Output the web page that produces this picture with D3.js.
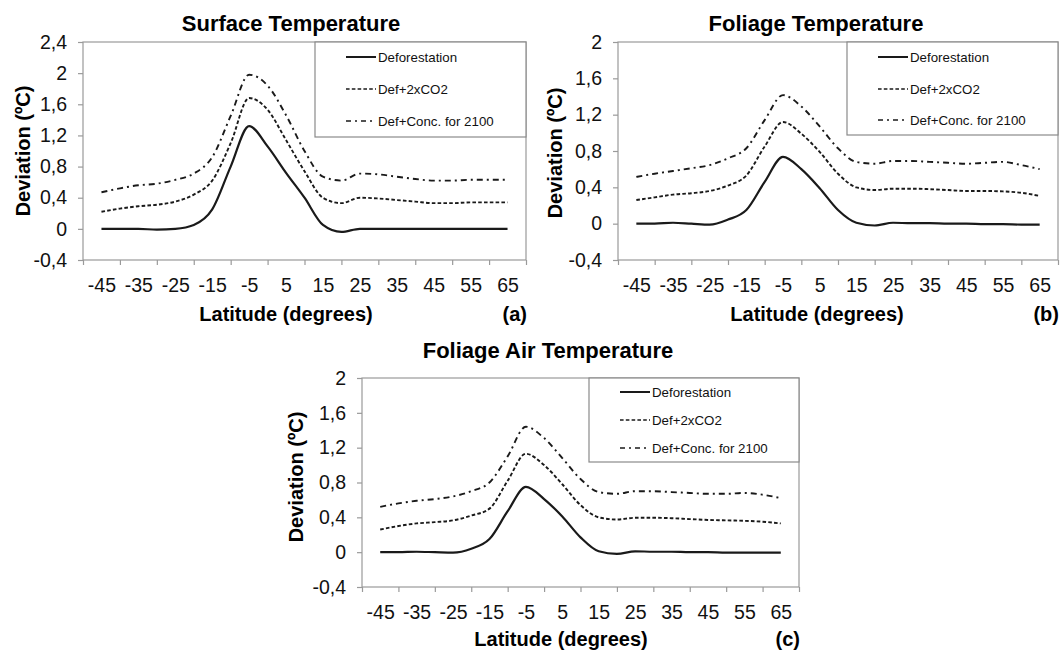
<!DOCTYPE html>
<meta charset="utf-8">
<style>
  body { margin: 0; background: #fff; }
  svg { font-family: "Liberation Sans", Arial, Helvetica, sans-serif; }
  .title { font-size: 22px; font-weight: bold; }
  .axtitle { font-size: 20px; font-weight: bold; }
  .tick text { font-size: 19.5px; fill: #111; }
  .legend text { font-size: 13.3px; fill: #111; }
</style>
<body>
<script src="https://cdn.jsdelivr.net/npm/d3@7"></script>
<script>

// latitude of each data point (degrees)
var lats = [-45, -40, -35, -30, -25, -20, -15, -10, -5, 0, 5, 10, 15, 20, 25, 30, 35, 40, 45, 50, 55, 60, 65];
var xTickLabels = [-45, -35, -25, -15, -5, 5, 15, 25, 35, 45, 55, 65];
var seriesNames = ["Deforestation", "Def+2xCO2", "Def+Conc. for 2100"];

// (a) surface temperature deviation
var surfDef  = [0, 0, 0, -0.01, 0, 0.05, 0.25, 0.8, 1.32, 1.06, 0.72, 0.4, 0.05, -0.04, 0, 0, 0, 0, 0, 0, 0, 0, 0];
var surfCO2  = [0.22, 0.26, 0.29, 0.31, 0.35, 0.44, 0.62, 1.1, 1.68, 1.53, 1.14, 0.74, 0.4, 0.33, 0.4, 0.39, 0.37, 0.35, 0.33, 0.33, 0.34, 0.34, 0.34];
var surfConc = [0.47, 0.52, 0.56, 0.58, 0.63, 0.71, 0.92, 1.45, 1.98, 1.84, 1.46, 1.0, 0.67, 0.62, 0.71, 0.7, 0.67, 0.64, 0.62, 0.62, 0.63, 0.63, 0.63];

// (b) foliage temperature deviation
var folDef  = [0, 0, 0.01, 0, -0.01, 0.045, 0.15, 0.46, 0.735, 0.6, 0.39, 0.15, 0.01, -0.02, 0.01, 0.005, 0.005, 0, 0, -0.005, -0.005, -0.01, -0.01];
var folCO2  = [0.26, 0.29, 0.32, 0.335, 0.36, 0.42, 0.53, 0.85, 1.12, 0.99, 0.79, 0.55, 0.4, 0.37, 0.385, 0.385, 0.38, 0.37, 0.36, 0.36, 0.355, 0.34, 0.305];
var folConc = [0.515, 0.55, 0.58, 0.61, 0.645, 0.72, 0.83, 1.14, 1.415, 1.29, 1.07, 0.83, 0.68, 0.66, 0.69, 0.69, 0.68, 0.67, 0.66, 0.67, 0.68, 0.645, 0.6];

// (c) foliage air temperature deviation
var airDef  = [0, 0, 0.005, 0, -0.005, 0.04, 0.15, 0.47, 0.75, 0.61, 0.41, 0.17, 0.01, -0.02, 0.01, 0.005, 0.005, 0, 0, -0.005, -0.005, -0.005, -0.005];
var airCO2  = [0.26, 0.3, 0.33, 0.345, 0.365, 0.42, 0.5, 0.82, 1.13, 1.0, 0.78, 0.54, 0.4, 0.375, 0.395, 0.395, 0.39, 0.38, 0.37, 0.365, 0.36, 0.35, 0.33];
var airConc = [0.52, 0.56, 0.59, 0.61, 0.64, 0.7, 0.8, 1.1, 1.44, 1.31, 1.08, 0.84, 0.69, 0.67, 0.7, 0.7, 0.69, 0.68, 0.67, 0.67, 0.68, 0.66, 0.62];

var yTicksA = [-0.4, 0, 0.4, 0.8, 1.2, 1.6, 2, 2.4];
var yTicksB = [-0.4, 0, 0.4, 0.8, 1.2, 1.6, 2];

var dashes = [null, "3.6,2.2", "6,4,2,4"];

var panels = [
  { title: "Surface Temperature", tag: "(a)", series: [surfDef, surfCO2, surfConc], yTicks: yTicksA,
    left: 83, right: 526, top: 42, bottom: 260, titleX: 291, titleY: 31, xtX: 286, xtY: 321, ytX: 23, ytY: 151,
    leg: { x0: 315, y0: 42, y1: 137, rows: [57, 89, 121] } },
  { title: "Foliage Temperature", tag: "(b)", series: [folDef, folCO2, folConc], yTicks: yTicksB,
    left: 618, right: 1058, top: 42, bottom: 260, titleX: 816, titleY: 31, xtX: 817, xtY: 321, ytX: 555, ytY: 153,
    leg: { x0: 847, y0: 42, y1: 135, rows: [57, 89, 120] } },
  { title: "Foliage Air Temperature", tag: "(c)", series: [airDef, airCO2, airConc], yTicks: yTicksB,
    left: 362, right: 799, top: 378, bottom: 587, titleX: 548, titleY: 358, xtX: 561, xtY: 646, ytX: 296, ytY: 477,
    leg: { x0: 589, y0: 378, y1: 462, rows: [392, 420, 448] } }
];

var svg = d3.select("body").append("svg")
  .attr("width", 1063)
  .attr("height", 652);

// plain hyphen minus and decimal comma, as in the original
function fmt(d) {
  return d3.format("~g")(d).replace("\u2212", "-").replace(".", ",");
}
function fmtInt(d) {
  return d3.format("d")(d).replace("\u2212", "-");
}

panels.forEach(function(p) {
  var g = svg.append("g");

  var x = d3.scaleLinear().domain([-50, 70]).range([p.left, p.right]);
  var y = d3.scaleLinear()
    .domain([-0.4, p.yTicks[p.yTicks.length - 1]])
    .range([p.bottom, p.top]);

  // plot frame
  g.append("rect")
    .attr("x", p.left).attr("y", p.top)
    .attr("width", p.right - p.left).attr("height", p.bottom - p.top)
    .attr("fill", "none").attr("stroke", "#9a9a9a").attr("stroke-width", 1.2);

  // y axis
  var ya = g.append("g")
    .attr("transform", "translate(" + p.left + ",0)")
    .call(d3.axisLeft(y).tickValues(p.yTicks).tickSize(5).tickPadding(11).tickFormat(fmt));
  ya.select(".domain").remove();
  ya.selectAll("line").attr("stroke", "#9a9a9a").attr("stroke-width", 1.2);

  // x axis: tick marks on category boundaries, labels in between
  var xa = g.append("g")
    .attr("transform", "translate(0," + p.bottom + ")")
    .call(d3.axisBottom(x).tickValues(d3.range(-50, 71, 10)).tickSize(5).tickFormat(""));
  xa.select(".domain").remove();
  xa.selectAll("line").attr("stroke", "#9a9a9a").attr("stroke-width", 1.2);

  var xl = g.append("g")
    .attr("transform", "translate(0," + p.bottom + ")")
    .call(d3.axisBottom(x).tickValues(xTickLabels).tickSize(0).tickPadding(18).tickFormat(fmtInt));
  xl.select(".domain").remove();

  // curves
  var line = d3.line()
    .x(function(d, i) { return x(lats[i]); })
    .y(function(d) { return y(d); })
    .curve(d3.curveMonotoneX);

  p.series.forEach(function(s, k) {
    g.append("path")
      .datum(s)
      .attr("fill", "none")
      .attr("stroke", "#1a1a1a")
      .attr("stroke-width", k === 0 ? 2.2 : 1.9)
      .attr("stroke-dasharray", dashes[k])
      .attr("d", line);
  });

  // titles
  g.append("text").attr("class", "title")
    .attr("x", p.titleX).attr("y", p.titleY)
    .attr("text-anchor", "middle").text(p.title);

  g.append("text").attr("class", "axtitle")
    .attr("x", p.xtX).attr("y", p.xtY)
    .attr("text-anchor", "middle").text("Latitude (degrees)");

  g.append("text").attr("class", "axtitle")
    .attr("x", p.right + 1).attr("y", p.xtY)
    .attr("text-anchor", "end").text(p.tag);

  g.append("text").attr("class", "axtitle")
    .attr("transform", "translate(" + p.ytX + "," + p.ytY + ") rotate(-90)")
    .attr("dy", "0.35em")
    .attr("text-anchor", "middle").text("Deviation (ºC)");

  // legend
  var lg = g.append("g").attr("class", "legend");
  lg.append("rect")
    .attr("x", p.leg.x0).attr("y", p.leg.y0)
    .attr("width", p.right - p.leg.x0).attr("height", p.leg.y1 - p.leg.y0)
    .attr("fill", "#fff").attr("stroke", "#8a8a8a").attr("stroke-width", 1.2);

  seriesNames.forEach(function(name, k) {
    var ry = p.leg.rows[k];
    lg.append("line")
      .attr("x1", p.leg.x0 + 31).attr("x2", p.leg.x0 + 61)
      .attr("y1", ry).attr("y2", ry)
      .attr("stroke", "#1a1a1a")
      .attr("stroke-width", k === 0 ? 2 : 1.6)
      .attr("stroke-dasharray", k === 2 ? "5,4,2,4" : dashes[k]);
    lg.append("text")
      .attr("x", p.leg.x0 + 63).attr("y", ry)
      .attr("dy", "0.35em")
      .text(name);
  });
});

</script>
</body>
